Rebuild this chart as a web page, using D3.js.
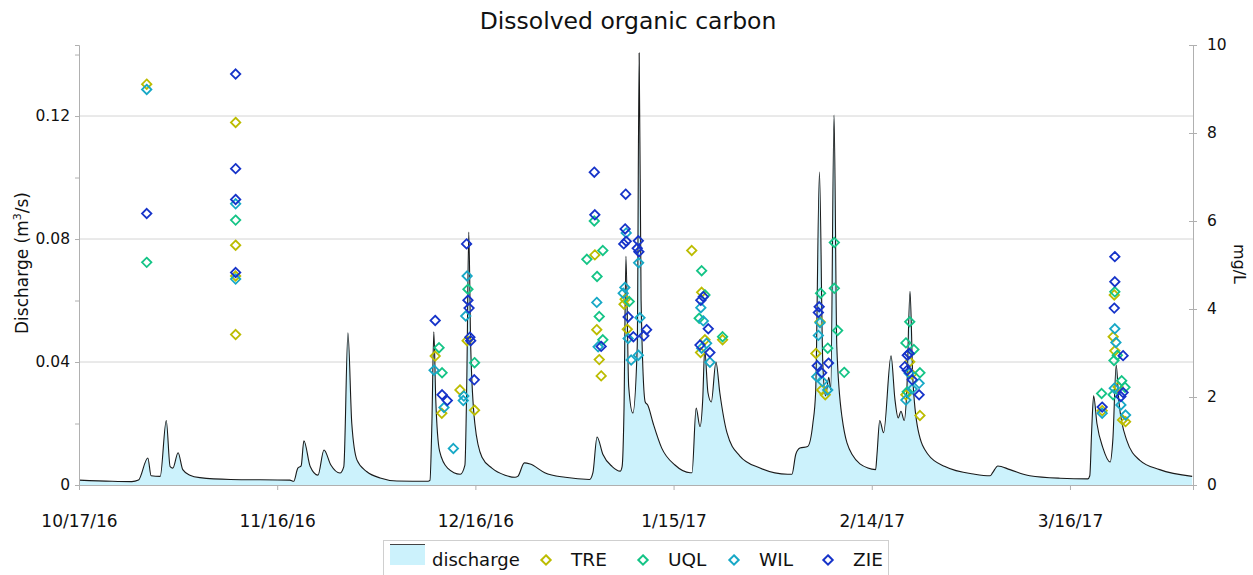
<!DOCTYPE html>
<html>
<head>
<meta charset="utf-8">
<script src="https://cdn.jsdelivr.net/npm/d3@7"></script>
<style>
body { margin: 0; background: #fff; }
svg { display: block; font-family: "DejaVu Sans", sans-serif; }
</style>
</head>
<body>
<svg width="1253" height="575"></svg>
<script>
// discharge hydrograph, m3/s  [date hour, value]
const discharge = [
  ["2016-10-17 00", 0.0016], ["2016-10-22 00", 0.0012], ["2016-10-25 00", 0.0011], ["2016-10-26 00", 0.0016],
  ["2016-10-27 10", 0.0088], ["2016-10-27 22", 0.003], ["2016-10-29 07", 0.0028], ["2016-10-30 05", 0.021],
  ["2016-10-30 19", 0.006], ["2016-10-31 05", 0.0055], ["2016-11-01 00", 0.0105], ["2016-11-01 17", 0.005],
  ["2016-11-02 19", 0.0032], ["2016-11-04 07", 0.0024], ["2016-11-08 22", 0.0018], ["2016-11-17 22", 0.0016],
  ["2016-11-18 12", 0.0012], ["2016-11-19 03", 0.0055], ["2016-11-19 15", 0.0062], ["2016-11-20 01", 0.0144],
  ["2016-11-21 00", 0.006], ["2016-11-22 04", 0.0032], ["2016-11-23 02", 0.0114], ["2016-11-24 03", 0.0065],
  ["2016-11-25 12", 0.0039], ["2016-11-26 02", 0.006], ["2016-11-26 17", 0.0495], ["2016-11-27 07", 0.020],
  ["2016-11-28 02", 0.0081], ["2016-11-29 14", 0.0043], ["2016-12-01 14", 0.0023], ["2016-12-04 03", 0.0013],
  ["2016-12-08 20", 0.0012], ["2016-12-09 03", 0.0015], ["2016-12-09 10", 0.02], ["2016-12-09 17", 0.0498],
  ["2016-12-10 00", 0.028], ["2016-12-10 14", 0.011], ["2016-12-11 19", 0.0055], ["2016-12-13 17", 0.0035],
  ["2016-12-14 10", 0.0065], ["2016-12-14 17", 0.035], ["2016-12-15 00", 0.0823], ["2016-12-15 07", 0.045],
  ["2016-12-15 22", 0.02], ["2016-12-17 00", 0.009], ["2016-12-18 12", 0.0055], ["2016-12-20 12", 0.0032],
  ["2016-12-22 00", 0.0025], ["2016-12-22 10", 0.0028], ["2016-12-23 10", 0.0072], ["2016-12-24 07", 0.0068],
  ["2016-12-26 12", 0.004], ["2016-12-29 14", 0.0025], ["2017-01-02 07", 0.0018], ["2017-01-02 19", 0.004],
  ["2017-01-03 10", 0.0156], ["2017-01-04 07", 0.010], ["2017-01-05 17", 0.006], ["2017-01-06 22", 0.0045],
  ["2017-01-07 05", 0.006], ["2017-01-07 12", 0.025], ["2017-01-07 19", 0.0744], ["2017-01-08 05", 0.032],
  ["2017-01-08 20", 0.0234], ["2017-01-09 12", 0.045], ["2017-01-09 19", 0.1405], ["2017-01-10 02", 0.06],
  ["2017-01-10 17", 0.027], ["2017-01-11 02", 0.026], ["2017-01-11 22", 0.020], ["2017-01-13 05", 0.012],
  ["2017-01-15 05", 0.0065], ["2017-01-17 12", 0.004], ["2017-01-17 19", 0.004], ["2017-01-18 10", 0.025],
  ["2017-01-19 00", 0.019], ["2017-01-19 10", 0.028], ["2017-01-19 17", 0.044], ["2017-01-20 05", 0.030],
  ["2017-01-20 17", 0.027], ["2017-01-21 10", 0.040], ["2017-01-22 00", 0.030], ["2017-01-23 02", 0.017],
  ["2017-01-25 00", 0.0095], ["2017-01-28 02", 0.0055], ["2017-02-01 07", 0.0035], ["2017-02-01 22", 0.0035],
  ["2017-02-02 12", 0.010], ["2017-02-03 03", 0.012], ["2017-02-04 07", 0.0125], ["2017-02-05 02", 0.020],
  ["2017-02-05 12", 0.030], ["2017-02-06 02", 0.1018], ["2017-02-06 14", 0.040], ["2017-02-07 00", 0.029],
  ["2017-02-07 12", 0.035], ["2017-02-07 19", 0.031], ["2017-02-08 07", 0.1203], ["2017-02-08 17", 0.045],
  ["2017-02-09 12", 0.022], ["2017-02-11 00", 0.010], ["2017-02-13 10", 0.0055], ["2017-02-14 14", 0.005],
  ["2017-02-14 19", 0.010], ["2017-02-15 05", 0.021], ["2017-02-15 19", 0.017], ["2017-02-16 22", 0.042],
  ["2017-02-17 12", 0.028], ["2017-02-18 00", 0.0218], ["2017-02-18 10", 0.024], ["2017-02-18 22", 0.021],
  ["2017-02-19 07", 0.030], ["2017-02-19 19", 0.063], ["2017-02-20 05", 0.035], ["2017-02-21 00", 0.018],
  ["2017-02-22 12", 0.010], ["2017-02-25 02", 0.006], ["2017-03-01 14", 0.0035], ["2017-03-03 22", 0.003],
  ["2017-03-04 07", 0.004], ["2017-03-05 02", 0.0062], ["2017-03-06 22", 0.005], ["2017-03-09 22", 0.003],
  ["2017-03-14 12", 0.0022], ["2017-03-18 17", 0.002], ["2017-03-19 00", 0.003], ["2017-03-19 07", 0.018],
  ["2017-03-19 14", 0.029], ["2017-03-20 02", 0.020], ["2017-03-21 00", 0.012], ["2017-03-22 02", 0.0075],
  ["2017-03-22 12", 0.015], ["2017-03-23 00", 0.039], ["2017-03-23 10", 0.027], ["2017-03-24 14", 0.0146],
  ["2017-03-26 14", 0.008], ["2017-03-29 14", 0.005], ["2017-04-03 12", 0.0028]
];

// DOC samples, mg/L
const TRE = [
  ["2016-10-27 06", 9.11], ["2016-11-09 17", 8.24], ["2016-11-09 17", 5.45], ["2016-11-09 17", 4.75], ["2016-11-09 17", 3.42],
  ["2016-12-09 22", 2.93], ["2016-12-10 22", 1.63], ["2016-12-13 16", 2.16], ["2016-12-14 18", 3.28], ["2016-12-15 21", 1.70],
  ["2017-01-03 02", 5.23], ["2017-01-03 09", 3.53], ["2017-01-03 18", 2.85], ["2017-01-04 01", 2.48],
  ["2017-01-07 16", 4.22], ["2017-01-07 12", 4.11], ["2017-01-08 00", 3.54],
  ["2017-01-17 18", 5.33], ["2017-01-19 06", 4.38], ["2017-01-19 18", 3.30], ["2017-01-19 02", 3.01], ["2017-01-22 10", 3.30],
  ["2017-02-06 04", 3.71], ["2017-02-05 13", 2.99], ["2017-02-06 10", 2.16], ["2017-02-06 23", 2.05],
  ["2017-02-19 18", 2.80], ["2017-02-20 01", 2.52], ["2017-02-19 04", 2.05], ["2017-02-21 07", 1.58],
  ["2017-03-22 17", 4.32], ["2017-03-22 13", 3.37], ["2017-03-22 19", 3.05], ["2017-03-23 07", 2.23],
  ["2017-03-20 21", 1.69], ["2017-03-23 23", 1.48], ["2017-03-24 10", 1.44]
];
const UQL = [
  ["2016-10-27 06", 5.06], ["2016-11-09 17", 6.02],
  ["2016-12-10 12", 3.12], ["2016-12-10 23", 2.55], ["2016-12-14 21", 4.45], ["2016-12-15 21", 2.78],
  ["2017-01-03 00", 6.00], ["2017-01-01 21", 5.13], ["2017-01-04 07", 5.33], ["2017-01-03 10", 4.74],
  ["2017-01-03 18", 3.83], ["2017-01-04 07", 3.30], ["2017-01-08 07", 4.17],
  ["2017-01-19 06", 4.87], ["2017-01-19 18", 4.32], ["2017-01-18 21", 3.79], ["2017-01-22 10", 3.37],
  ["2017-02-08 08", 5.51], ["2017-02-08 08", 4.47], ["2017-02-06 06", 4.36], ["2017-02-08 20", 3.51],
  ["2017-02-07 08", 3.11], ["2017-02-09 20", 2.56],
  ["2017-02-19 18", 3.71], ["2017-02-19 04", 3.23], ["2017-02-20 09", 3.08], ["2017-02-21 07", 2.55], ["2017-02-19 09", 2.12],
  ["2017-03-22 19", 4.39], ["2017-03-23 04", 2.95], ["2017-03-22 16", 2.83], ["2017-03-23 20", 2.37],
  ["2017-03-20 19", 2.08], ["2017-03-24 08", 2.22], ["2017-03-22 13", 2.05]
];
const WIL = [
  ["2016-10-27 06", 8.99], ["2016-11-09 17", 6.39], ["2016-11-09 17", 4.68],
  ["2016-12-09 18", 2.61], ["2016-12-11 06", 1.76], ["2016-12-12 16", 0.83],
  ["2016-12-14 18", 4.75], ["2016-12-14 13", 3.84], ["2016-12-14 06", 2.02], ["2016-12-14 04", 1.92],
  ["2017-01-03 09", 4.15], ["2017-01-03 14", 3.14],
  ["2017-01-07 20", 5.73], ["2017-01-07 15", 4.49], ["2017-01-07 09", 4.36], ["2017-01-08 03", 3.33],
  ["2017-01-08 14", 2.84], ["2017-01-09 16", 2.95], ["2017-01-09 22", 3.80], ["2017-01-09 17", 5.05],
  ["2017-01-19 03", 4.03], ["2017-01-19 12", 3.73], ["2017-01-20 00", 3.22], ["2017-01-19 06", 3.11], ["2017-01-20 12", 2.79],
  ["2017-02-06 04", 3.69], ["2017-02-05 22", 3.40], ["2017-02-05 16", 2.46], ["2017-02-06 13", 2.35], ["2017-02-07 08", 2.16],
  ["2017-02-19 16", 2.54], ["2017-02-21 04", 2.31], ["2017-02-20 03", 2.18], ["2017-02-19 04", 1.93],
  ["2017-03-22 19", 3.55], ["2017-03-22 23", 3.24], ["2017-03-22 17", 2.20], ["2017-03-23 17", 1.82],
  ["2017-03-20 21", 1.63], ["2017-03-24 10", 1.59]
];
const ZIE = [
  ["2016-10-27 06", 6.17], ["2016-11-09 17", 9.34], ["2016-11-09 17", 7.19], ["2016-11-09 17", 6.49], ["2016-11-09 17", 4.83],
  ["2016-12-09 22", 3.74], ["2016-12-10 23", 2.05], ["2016-12-11 18", 1.92],
  ["2016-12-14 16", 5.48], ["2016-12-14 21", 4.20], ["2016-12-15 01", 4.02], ["2016-12-15 04", 3.36],
  ["2016-12-15 07", 3.28], ["2016-12-15 20", 2.39],
  ["2017-01-03 00", 7.11], ["2017-01-03 02", 6.14], ["2017-01-04 01", 3.15],
  ["2017-01-07 18", 6.61], ["2017-01-07 16", 5.82], ["2017-01-07 11", 5.48], ["2017-01-07 20", 5.54],
  ["2017-01-08 03", 3.82], ["2017-01-08 22", 3.37], ["2017-01-09 16", 5.55], ["2017-01-09 12", 5.38],
  ["2017-01-09 18", 5.30], ["2017-01-10 22", 3.53], ["2017-01-10 12", 3.39],
  ["2017-01-19 12", 4.28], ["2017-01-19 03", 4.20], ["2017-01-20 06", 3.55], ["2017-01-19 00", 3.18], ["2017-01-20 12", 3.01],
  ["2017-02-06 01", 4.05], ["2017-02-05 22", 3.92], ["2017-02-05 18", 2.71], ["2017-02-07 11", 2.77], ["2017-02-06 10", 2.55],
  ["2017-02-19 16", 2.99], ["2017-02-19 09", 2.95], ["2017-02-19 00", 2.69], ["2017-02-19 09", 2.61],
  ["2017-02-20 03", 2.39], ["2017-02-21 04", 2.05],
  ["2017-03-22 19", 5.19], ["2017-03-22 19", 4.62], ["2017-03-22 17", 4.02], ["2017-03-24 01", 2.94],
  ["2017-03-24 01", 2.10], ["2017-03-23 17", 2.01], ["2017-03-20 21", 1.77]
];

const siteNames = ["TRE", "UQL", "WIL", "ZIE"];
const siteColors = ["#bcbc00", "#14c486", "#17a8c6", "#1633c9"];
const leftTicks = [0, 0.04, 0.08, 0.12];
const leftMinorTicks = [0, 0.02, 0.04, 0.06, 0.08, 0.10, 0.12, 0.14];
const rightTicks = [0, 2, 4, 6, 8, 10];
const xTickDates = ["2016-10-17", "2016-11-16", "2016-12-16", "2017-01-15", "2017-02-14", "2017-03-16"];
const xStart = "2016-10-17 00", xEnd = "2017-04-03 15";

const parse = d3.timeParse("%Y-%m-%d %H");
const parseDay = d3.timeParse("%Y-%m-%d");

const svg = d3.select("svg");
const pLeft = 79, pRight = 1193, pTop = 45, pBottom = 485;

const x = d3.scaleTime().domain([parse(xStart), parse(xEnd)]).range([pLeft, pRight]);
const yL = d3.scaleLinear().domain([0, 0.1431]).range([pBottom, pTop]);
const yR = d3.scaleLinear().domain([0, 10]).range([pBottom, pTop]);

// title
svg.append("text")
  .attr("x", 628).attr("y", 29)
  .attr("text-anchor", "middle")
  .attr("font-size", 23.5).attr("fill", "#111")
  .text("Dissolved organic carbon");

// gridlines
svg.append("g")
  .selectAll("line")
  .data(leftTicks.filter(d => d > 0))
  .join("line")
  .attr("x1", pLeft).attr("x2", pRight)
  .attr("y1", d => yL(d)).attr("y2", d => yL(d))
  .attr("stroke", "#d4d4d4").attr("stroke-width", 1);

// discharge area + line
const flow = discharge.map(d => ({ date: parse(d[0]), q: d[1] }));
svg.append("defs").append("clipPath").attr("id", "clip")
  .append("rect").attr("x", pLeft).attr("y", pTop - 10).attr("width", pRight - pLeft).attr("height", pBottom - pTop + 10);

const area = d3.area().curve(d3.curveMonotoneX).x(d => x(d.date)).y0(yL(0)).y1(d => yL(d.q));
const line = d3.line().curve(d3.curveMonotoneX).x(d => x(d.date)).y(d => yL(d.q));

const plot = svg.append("g").attr("clip-path", "url(#clip)");
plot.append("path").datum(flow).attr("d", area).attr("fill", "#ccf2fc");
plot.append("path").datum(flow).attr("d", line)
  .attr("fill", "none").attr("stroke", "#1a1a1a").attr("stroke-width", 1.1);

// axes
svg.append("g").attr("transform", `translate(${pLeft},0)`)
  .call(d3.axisLeft(yL).tickValues(leftMinorTicks).tickSize(4).tickFormat(""))
  .call(g => g.selectAll("line,path").attr("stroke", "#b0b0b0"));
svg.append("g").attr("transform", `translate(${pLeft},0)`)
  .call(d3.axisLeft(yL).tickValues(leftTicks).tickSize(0).tickPadding(9)
    .tickFormat(d => d === 0 ? "0" : d3.format(".2f")(d)))
  .call(g => g.select(".domain").remove())
  .call(g => g.selectAll("text").attr("font-size", 15.5).attr("fill", "#111").attr("font-family", "DejaVu Sans"));

svg.append("g").attr("transform", `translate(${pRight},0)`)
  .call(d3.axisRight(yR).tickValues(rightTicks).tickSize(4).tickPadding(10).tickFormat(d3.format("d")))
  .call(g => g.selectAll("line,path").attr("stroke", "#b0b0b0"))
  .call(g => g.selectAll(".tick line").attr("x1", -4))
  .call(g => g.selectAll("text").attr("font-size", 15.5).attr("fill", "#111").attr("font-family", "DejaVu Sans"));

svg.append("g").attr("transform", `translate(0,${pBottom})`)
  .call(d3.axisBottom(x).tickValues(xTickDates.map(parseDay)).tickSize(5).tickPadding(25)
    .tickFormat(d3.timeFormat("%-m/%-d/%y")))
  .call(g => g.selectAll("line,path").attr("stroke", "#b0b0b0"))
  .call(g => g.selectAll("text").attr("font-size", 17).attr("fill", "#111").attr("font-family", "DejaVu Sans"));

// axis titles
svg.append("text")
  .attr("transform", "translate(28,263) rotate(-90)")
  .attr("text-anchor", "middle").attr("font-size", 17).attr("fill", "#111")
  .call(t => {
    t.append("tspan").text("Discharge (m");
    t.append("tspan").attr("font-size", 11).attr("dy", -7).text("3");
    t.append("tspan").attr("dy", 7).text("/s)");
  });
svg.append("text")
  .attr("transform", "translate(1234,264) rotate(90)")
  .attr("text-anchor", "middle").attr("font-size", 16).attr("fill", "#111")
  .text("mg/L");

// DOC points
const diamond = "M0,-4.7L4.7,0L0,4.7L-4.7,0Z";
const sites = [TRE, UQL, WIL, ZIE];
sites.forEach((rows, i) => {
  svg.append("g")
    .selectAll("path")
    .data(rows)
    .join("path")
    .attr("transform", d => `translate(${x(parse(d[0]))},${yR(d[1])})`)
    .attr("d", diamond)
    .attr("fill", "none")
    .attr("stroke", siteColors[i])
    .attr("stroke-width", 1.8);
});

// legend
const lg = svg.append("g");
lg.append("rect").attr("x", 383.5).attr("y", 540.5).attr("width", 505).attr("height", 40)
  .attr("fill", "#fff").attr("stroke", "#cfcfcf");
lg.append("rect").attr("x", 390).attr("y", 544).attr("width", 35).attr("height", 21).attr("fill", "#ccf2fc");
lg.append("line").attr("x1", 390).attr("x2", 425).attr("y1", 544.5).attr("y2", 544.5).attr("stroke", "#444").attr("stroke-width", 1);
lg.append("text").attr("x", 432).attr("y", 566).attr("font-size", 18).attr("fill", "#111").text("discharge");
const legX = [546, 643, 734, 828];
siteNames.forEach((name, i) => {
  lg.append("path").attr("d", diamond).attr("transform", `translate(${legX[i]},560)`)
    .attr("fill", "none").attr("stroke", siteColors[i]).attr("stroke-width", 2);
  lg.append("text").attr("x", legX[i] + 25).attr("y", 566).attr("font-size", 18.5).attr("fill", "#111").text(name);
});
</script>
</body>
</html>
